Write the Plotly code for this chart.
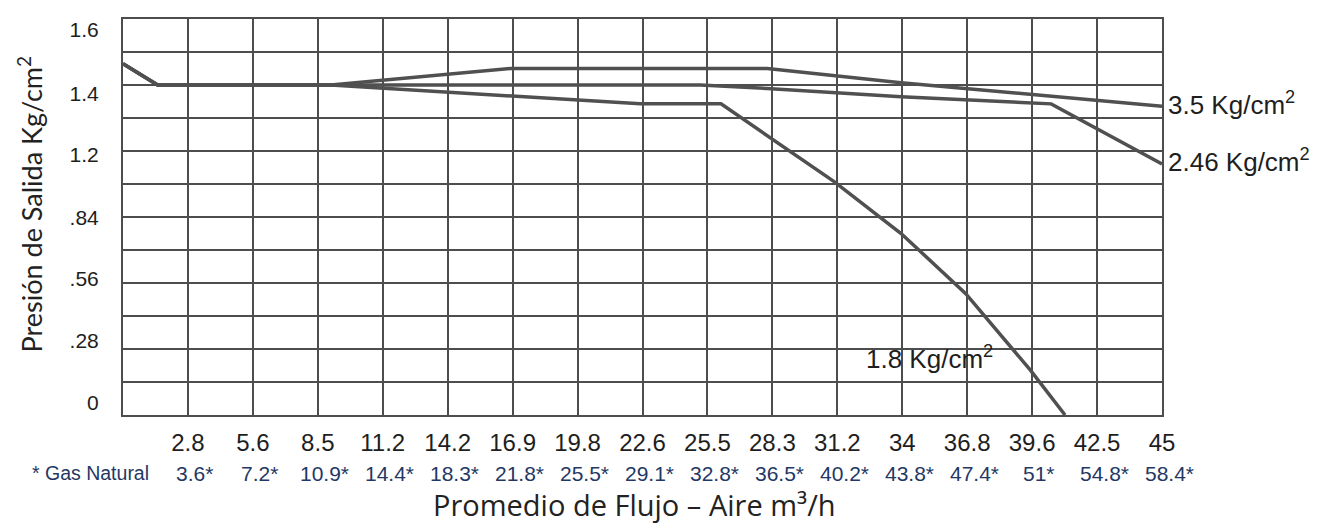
import plotly.graph_objects as go

# ---------------- data ----------------
x_tick_labels = ["2.8", "5.6", "8.5", "11.2", "14.2", "16.9", "19.8", "22.6",
                 "25.5", "28.3", "31.2", "34", "36.8", "39.6", "42.5", "45"]
gas_labels = ["3.6*", "7.2*", "10.9*", "14.4*", "18.3*", "21.8*", "25.5*", "29.1*",
              "32.8*", "36.5*", "40.2*", "43.8*", "47.4*", "51*", "54.8*", "58.4*"]
y_tick_labels = ["0", ".28", ".56", ".84", "1.2", "1.4", "1.6"]

# curve: 3.5 Kg/cm2
x_35 = [0, 1.5, 9.0, 16.8, 27.9, 33.7, 45.0]
y_35 = [1.49, 1.40, 1.40, 1.47, 1.47, 1.41, 1.31]
# curve: 2.46 Kg/cm2
x_246 = [0, 1.5, 9.0, 25.0, 27.9, 33.7, 40.2, 45.0]
y_246 = [1.49, 1.40, 1.40, 1.40, 1.385, 1.35, 1.32, 1.065]
# curve: 1.8 Kg/cm2
x_18 = [0, 1.5, 9.0, 22.4, 25.9, 28.0, 30.8, 33.7, 36.5, 39.3, 40.8]
y_18 = [1.49, 1.40, 1.40, 1.32, 1.32, 1.18, 0.99, 0.77, 0.515, 0.19, 0.0]

# ---------------- layout constants ----------------
X_MAX = 45.0
N_COLS = 16
Y_STEP = 0.14
Y_MAX = 1.68
x_tickvals = [X_MAX / N_COLS * (i + 1) for i in range(N_COLS)]
# label positions as they sit in the original (slightly off the grid lines)
y_label_pos = [0.051, 0.317, 0.578, 0.836, 1.106, 1.363, 1.634]

LINE_COLOR = "#505050"
GRID_COLOR = "#4d4d4d"
NAVY = "#1f3864"
TXT = "#1e1e1e"
NARROW = "Liberation Sans Narrow, Arial Narrow, Liberation Sans, Arial"

fig = go.Figure()
for xs, ys in [(x_35, y_35), (x_246, y_246), (x_18, y_18)]:
    fig.add_trace(go.Scatter(x=xs, y=ys, mode="lines",
                             line=dict(color=LINE_COLOR, width=3.5),
                             showlegend=False, hoverinfo="skip"))

# page body has an 8px margin, so the figure is 8px smaller than the window
fig.update_layout(
    width=1309, height=519,
    margin=dict(l=115, r=155, t=9, b=112),
    paper_bgcolor="white", plot_bgcolor="white",
    showlegend=False,
)

fig.update_xaxes(
    range=[0, X_MAX],
    tickmode="array", tickvals=x_tickvals, ticktext=x_tick_labels,
    showgrid=True, gridcolor=GRID_COLOR, gridwidth=1.6,
    zeroline=False,
    showline=True, linecolor=GRID_COLOR, linewidth=2, mirror=True,
    ticks="outside", ticklen=5, tickcolor="rgba(0,0,0,0)",
    tickfont=dict(family=NARROW, size=24, color=TXT),
)
fig.update_yaxes(
    range=[0, Y_MAX],
    tickmode="array", tickvals=y_label_pos, ticktext=y_tick_labels,
    showgrid=False, zeroline=False,
    showline=True, linecolor=GRID_COLOR, linewidth=2, mirror=True,
    ticks="outside", ticklen=18, tickcolor="rgba(0,0,0,0)",
    tickfont=dict(family="Liberation Sans, Arial", size=21, color=TXT),
    minor=dict(tickmode="linear", tick0=0, dtick=Y_STEP, showgrid=True,
               gridcolor=GRID_COLOR, gridwidth=1.6, ticks=""),
)

# second row of x labels: natural gas equivalents
GAS_ROW_Y = -0.147
for xv, lab in zip(x_tickvals, gas_labels):
    fig.add_annotation(x=xv, y=GAS_ROW_Y, xref="x", yref="paper", text=lab,
                       showarrow=False, xanchor="center", yanchor="middle", xshift=7,
                       borderpad=0, font=dict(family=NARROW, size=21, color=NAVY))
fig.add_annotation(x=-0.031, y=GAS_ROW_Y, xref="paper", yref="paper", text="* Gas Natural",
                   showarrow=False, xanchor="center", yanchor="middle", borderpad=0,
                   font=dict(family=NARROW, size=19.5, color=NAVY))

# axis titles
fig.add_annotation(x=0.492, y=-0.279, xref="paper", yref="paper",
                   text="Promedio de Flujo – Aire m³/h",
                   showarrow=False, xanchor="center", yanchor="bottom", borderpad=0,
                   font=dict(family="Open Sans, Lato, sans-serif", size=29, color="#222222"))
fig.add_annotation(x=-0.090, y=0.533, xref="paper", yref="paper",
                   text="Presión de Salida Kg/cm<sup>2</sup>", textangle=-90,
                   showarrow=False, xanchor="center", yanchor="middle",
                   font=dict(family="Lato, Open Sans, sans-serif", size=27, color="#222222"))

# curve labels
LBL_FONT = dict(family="Liberation Sans, Arial", size=26, color=TXT)
fig.add_annotation(x=x_35[-1], y=y_35[-1], text="3.5 Kg/cm<sup>2</sup>", showarrow=False,
                   xanchor="left", yanchor="middle", xshift=4, yshift=3, font=LBL_FONT)
fig.add_annotation(x=x_246[-1], y=y_246[-1], text="2.46 Kg/cm<sup>2</sup>", showarrow=False,
                   xanchor="left", yanchor="middle", xshift=4, yshift=3, font=LBL_FONT)
fig.add_annotation(x=32.1, y=0.224, text="1.8 Kg/cm<sup>2</sup>", showarrow=False,
                   xanchor="left", yanchor="middle", yshift=5, font=LBL_FONT)

fig.write_html("out.html")
